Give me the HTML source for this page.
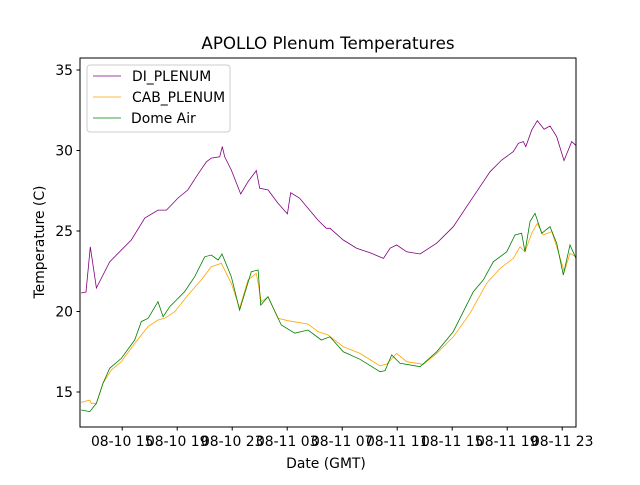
<!DOCTYPE html>
<html><head><meta charset="utf-8"><style>
body{margin:0;background:#fff;}
svg text{font-family:"DejaVu Sans","Liberation Sans",sans-serif;}
</style></head><body>
<svg id="chart" width="640" height="480" xmlns="http://www.w3.org/2000/svg">
<rect width="640" height="480" fill="#fff"/>
<text x="328" y="49" font-size="16.7" text-anchor="middle">APOLLO Plenum Temperatures</text>
<defs><clipPath id="clip"><rect x="80" y="58" width="496" height="369"/></clipPath></defs>
<g id="series" clip-path="url(#clip)"></g>
<g id="axes"></g>
<rect x="80" y="58" width="496" height="369" fill="none" stroke="#000" stroke-width="1"/>
<text x="326" y="468" font-size="13.9" text-anchor="middle">Date (GMT)</text>
<text transform="translate(44,242) rotate(-90)" font-size="13.9" text-anchor="middle">Temperature (C)</text>
<g>
<rect x="87" y="65" width="143" height="67" rx="3" fill="#fff" fill-opacity="0.8" stroke="#ccc"/>
<line x1="93" y1="76" x2="121" y2="76" stroke="purple" stroke-width="0.8"/>
<text x="132" y="81" font-size="13.9">DI_PLENUM</text>
<line x1="93" y1="97" x2="121" y2="97" stroke="orange" stroke-width="0.8"/>
<text x="132" y="102" font-size="13.9">CAB_PLENUM</text>
<line x1="93" y1="118" x2="121" y2="118" stroke="green" stroke-width="0.8"/>
<text x="131" y="123" font-size="13.9">Dome Air</text>
</g>
</svg>
<script>
// hours since 08-10 00:00 GMT
const diHours=[12.02,12.37,12.68,13.12,14.09,15.66,16.64,17.60,18.21,18.57,19.06,19.78,20.39,21.12,21.48,22.09,22.28,22.45,22.93,23.62,24.15,24.75,25.00,25.60,26.33,27.01,27.25,27.91,28.51,29.24,29.84,30.11,31.08,32.05,33.02,34.0,34.48,34.96,35.69,36.66,37.87,39.08,40.05,41.02,41.75,42.60,43.44,43.81,44.17,44.35,44.78,45.19,45.68,46.11,46.6,47.13,47.69,48.05];
const diTemps=[21.15,21.21,24.02,21.46,23.09,24.44,25.81,26.30,26.30,26.61,27.05,27.55,28.37,29.30,29.53,29.61,30.24,29.61,28.79,27.30,28.06,28.75,27.65,27.55,26.72,26.06,27.38,27.03,26.41,25.68,25.17,25.17,24.44,23.93,23.65,23.30,23.93,24.13,23.71,23.57,24.24,25.27,26.51,27.75,28.68,29.41,29.93,30.45,30.55,30.24,31.27,31.85,31.32,31.52,30.86,29.37,30.55,30.28];
const cabHours=[12.02,12.64,12.75,13.12,13.60,14.21,14.93,15.91,16.88,17.60,18.09,18.82,19.78,20.75,21.48,22.21,22.93,23.54,24.15,24.75,25.12,25.60,26.33,27.06,28.51,29.24,29.97,31.08,32.29,33.75,34.24,34.96,35.69,36.90,37.87,39.08,40.29,41.51,42.48,43.44,43.93,44.29,44.78,45.19,45.62,46.24,46.6,47.15,47.57,48.0];
const cabTemps=[14.36,14.5,14.3,14.3,15.54,16.37,16.88,18.02,19.06,19.47,19.58,19.99,21.02,21.96,22.78,22.99,21.75,20.2,21.96,22.37,20.61,20.92,19.58,19.43,19.22,18.75,18.54,17.81,17.40,16.63,16.74,17.40,16.88,16.72,17.40,18.43,19.89,21.75,22.68,23.30,24.02,23.71,24.86,25.48,24.75,24.96,24.02,22.47,23.61,23.40];
const domeHours=[12.02,12.64,13.12,13.60,14.09,14.93,15.91,16.39,16.88,17.60,17.97,18.45,18.93,19.54,20.27,21.0,21.48,21.97,22.26,22.93,23.54,24.39,24.88,25.07,25.60,26.57,27.55,28.51,29.48,30.11,31.08,32.29,33.75,34.11,34.60,35.20,36.66,37.87,39.08,40.53,41.26,41.99,42.96,43.57,44.05,44.29,44.66,45.02,45.51,46.11,46.6,47.08,47.57,48.0];
const domeTemps=[13.88,13.78,14.3,15.54,16.47,17.09,18.23,19.37,19.58,20.61,19.68,20.30,20.71,21.23,22.16,23.40,23.51,23.20,23.57,22.16,20.09,22.47,22.58,20.40,20.92,19.16,18.65,18.85,18.23,18.43,17.50,17.03,16.26,16.32,17.30,16.78,16.57,17.50,18.75,21.23,21.96,23.09,23.71,24.75,24.86,23.71,25.58,26.10,24.86,25.27,24.24,22.27,24.13,23.30];
const yTicks=[15,20,25,30,35];
const xTickHours=[15,19,23,27,31,35,39,43,47];
const xTickLabels=["08-10 15","08-10 19","08-10 23","08-11 03","08-11 07","08-11 11","08-11 15","08-11 19","08-11 23"];

const X0=80,X1=576,Y0=427,Y1=58;
const hMin=11.93,hMax=11.93+496/13.75, tMin=35-(427-70)/16.1, tMax=35+(70-58)/16.1;
function xs(h){return X0+(h-hMin)/(hMax-hMin)*(X1-X0);}
function ys(t){return Y0-(t-tMin)/(tMax-tMin)*(Y0-Y1);}
const NS="http://www.w3.org/2000/svg";
const sg=document.getElementById('series'), ag=document.getElementById('axes');
function line(hs,ts,color,name){
  const p=document.createElementNS(NS,'polyline');
  p.setAttribute('points',hs.map((h,i)=>xs(h).toFixed(1)+','+ys(ts[i]).toFixed(1)).join(' '));
  p.setAttribute('fill','none');p.setAttribute('stroke',color);p.setAttribute('stroke-width','0.8');
  
  
  sg.appendChild(p);
}
line(diHours,diTemps,'purple','di-plenum-line');
line(cabHours,cabTemps,'orange','cab-plenum-line');
line(domeHours,domeTemps,'green','dome-air-line');
yTicks.forEach(t=>{
  const y=ys(t);
  const l=document.createElementNS(NS,'line');
  l.setAttribute('x1',X0-3.5);l.setAttribute('x2',X0);l.setAttribute('y1',y);l.setAttribute('y2',y);l.setAttribute('stroke','#000');
  
  
  ag.appendChild(l);
  const tx=document.createElementNS(NS,'text');
  tx.setAttribute('x',X0-7);tx.setAttribute('y',y+5);tx.setAttribute('text-anchor','end');tx.setAttribute('font-size','13.9');
  tx.textContent=t;
  
  
  ag.appendChild(tx);
});
xTickHours.forEach((h,i)=>{
  const x=xs(h);
  const l=document.createElementNS(NS,'line');
  l.setAttribute('x1',x);l.setAttribute('x2',x);l.setAttribute('y1',Y0);l.setAttribute('y2',Y0+3.5);l.setAttribute('stroke','#000');
  
  
  ag.appendChild(l);
  const tx=document.createElementNS(NS,'text');
  tx.setAttribute('x',x);tx.setAttribute('y',Y0+19);tx.setAttribute('text-anchor','middle');tx.setAttribute('font-size','13.9');
  tx.textContent=xTickLabels[i];
  
  
  ag.appendChild(tx);
});
</script>
</body></html>
